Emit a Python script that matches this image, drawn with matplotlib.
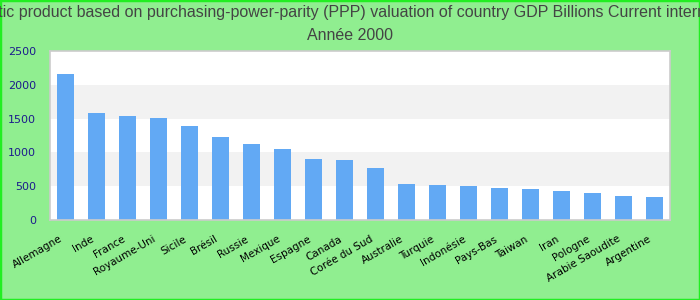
import matplotlib.pyplot as plt
import matplotlib.transforms as mtransforms
from matplotlib.patches import Rectangle

pays = ['Allemagne', 'Inde', 'France', 'Royaume-Uni', 'Sicile', 'Brésil', 'Russie',
        'Mexique', 'Espagne', 'Canada', 'Corée du Sud', 'Australie', 'Turquie',
        'Indonésie', 'Pays-Bas', 'Taiwan', 'Iran', 'Pologne', 'Arabie Saoudite',
        'Argentine']
pib = [2160, 1583, 1538, 1509, 1391, 1228, 1124, 1050, 902, 888, 769, 533, 518,
       503, 473, 459, 429, 399, 355, 340]
y_ticks = [0, 500, 1000, 1500, 2000, 2500]

titre = ('Gross domestic product based on purchasing-power-parity (PPP) valuation '
         'of country GDP Billions Current international dollar')

fig = plt.figure(figsize=(7, 3), dpi=100, facecolor='#90ee90')
ax = fig.add_axes([50/700, 80/300, 620/700, 169/300])
ax.set_facecolor('white')

# bandes alternées
for i in range(len(y_ticks) - 1):
    if i % 2 == 1:
        ax.axhspan(y_ticks[i], y_ticks[i+1], color='#f2f2f2', zorder=0, lw=0)

x = list(range(len(pays)))
ax.bar(x, pib, width=0.55, color='#62a9f4', zorder=2)

ax.set_xlim(-0.5, len(pays) - 0.5)
ax.set_ylim(0, 2500)
ax.set_yticks(y_ticks)
ax.tick_params(axis='y', length=0, pad=10, labelsize=8, labelcolor='#1c1c8c')
ax.set_xticks(x)
ax.set_xticklabels(pays, rotation=30, ha='right', rotation_mode='anchor',
                   fontsize=7.5)
ax.tick_params(axis='x', length=0, pad=10)
decal = mtransforms.ScaledTranslation(-6/100, 0, fig.dpi_scale_trans)
for lab in ax.get_xticklabels():
    lab.set_transform(lab.get_transform() + decal)
for s in ax.spines.values():
    s.set_color('#cccccc')
    s.set_linewidth(1.2)

fig.text(0.5, 1 - 13/300, titre, ha='center', va='center', fontsize=11.5,
         color='#444444', family='Liberation Sans')
fig.text(0.5, 1 - 36/300, 'Année 2000', ha='center', va='center', fontsize=11.5,
         color='#444444', family='Liberation Sans')

fig.patches.append(Rectangle((0, 0), 1, 1, transform=fig.transFigure, fill=False,
                             edgecolor='#22ee22', linewidth=2.5))

fig.savefig('out.png', dpi=100, facecolor=fig.get_facecolor())
